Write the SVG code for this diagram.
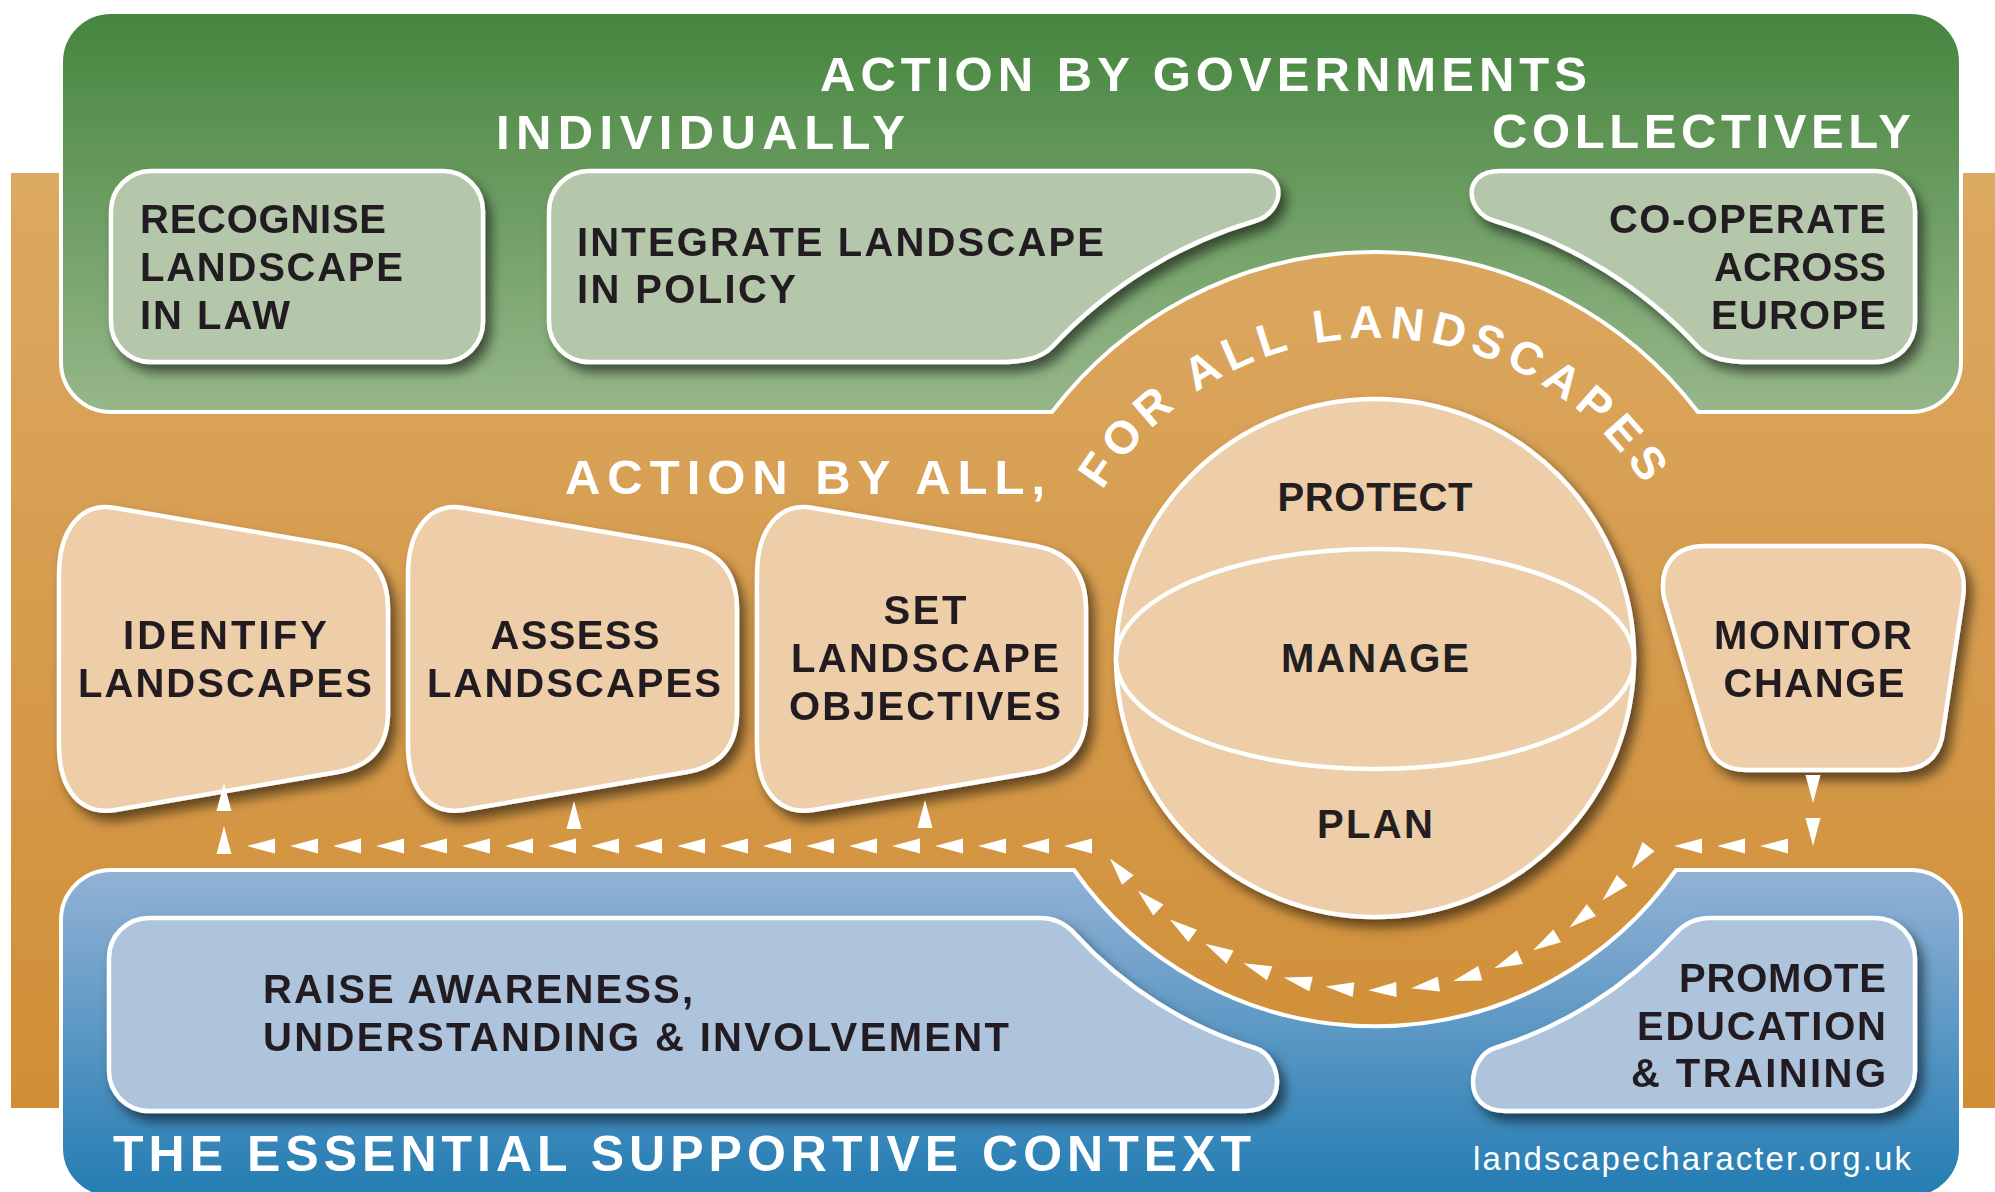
<svg xmlns="http://www.w3.org/2000/svg" xmlns:xlink="http://www.w3.org/1999/xlink" width="1995" height="1192" viewBox="0 0 1995 1192">
<defs>
<linearGradient id="gOrange" x1="0" y1="173" x2="0" y2="1108" gradientUnits="userSpaceOnUse"><stop offset="0" stop-color="#dca963"/><stop offset="1" stop-color="#d08e36"/></linearGradient>
<linearGradient id="gGreen" x1="0" y1="12" x2="0" y2="412" gradientUnits="userSpaceOnUse"><stop offset="0" stop-color="#45853e"/><stop offset="1" stop-color="#97b78a"/></linearGradient>
<linearGradient id="gBlue" x1="0" y1="870" x2="0" y2="1192" gradientUnits="userSpaceOnUse"><stop offset="0" stop-color="#93b2d5"/><stop offset="1" stop-color="#247db3"/></linearGradient>
<filter id="sh" x="-10%" y="-10%" width="130%" height="135%"><feDropShadow dx="6" dy="8" stdDeviation="6" flood-color="#000" flood-opacity="0.55"/></filter>
<polygon id="tri" points="-14,0 14,-7.5 14,7.5" fill="#fff"/>
<style>
.t{font-family:'Liberation Sans',Arial,sans-serif;font-weight:700;font-size:40px;fill:#231f20}
.w{font-family:'Liberation Sans',Arial,sans-serif;font-weight:700;font-size:49px;fill:#fff}
.box{stroke:#fff;stroke-width:4.5;stroke-linejoin:round}
.gb{fill:#b5c7aa}
.bb{fill:#aec4dd}
.tb{fill:#edcea8}
.m{text-anchor:middle}
.e{text-anchor:end}
</style>
</defs>

<g id="background">
<rect x="11" y="173" width="1984" height="935" fill="url(#gOrange)"/>
<path id="green-panel" d="M111,12 H1911 A50,50 0 0 1 1961,62 V362 A50,50 0 0 1 1911,412 H1698 A406,406 0 0 0 1052,412 H111 A50,50 0 0 1 61,362 V62 A50,50 0 0 1 111,12 Z" fill="url(#gGreen)" stroke="#fff" stroke-width="4"/>
<path id="blue-panel" d="M111,870 H1074 A368,368 0 0 0 1676,870 H1911 A50,50 0 0 1 1961,920 V1148 A50,50 0 0 1 1911,1198 H111 A50,50 0 0 1 61,1148 V920 A50,50 0 0 1 111,870 Z" fill="url(#gBlue)" stroke="#fff" stroke-width="4"/>
</g>

<g id="titles">
<text class="w" x="820" y="91" textLength="767" lengthAdjust="spacing">ACTION BY GOVERNMENTS</text>
<text class="w" x="496" y="149" textLength="409" lengthAdjust="spacing">INDIVIDUALLY</text>
<text class="w" x="1492" y="148" textLength="419" lengthAdjust="spacing">COLLECTIVELY</text>
<text class="w" x="565" y="494" textLength="480" lengthAdjust="spacing">ACTION BY ALL,</text>
<path id="arcText" d="M1055,658 A320,320 0 0 1 1695,658" fill="none"/>
<text class="w" font-size="46" style="font-size:46px" letter-spacing="7"><textPath href="#arcText" xlink:href="#arcText" startOffset="50%" text-anchor="middle">FOR ALL LANDSCAPES</textPath></text>
<text class="w" x="113" y="1171" style="font-size:50px" textLength="1138" lengthAdjust="spacing">THE ESSENTIAL SUPPORTIVE CONTEXT</text>
<text x="1473" y="1170" style="font-family:'Liberation Sans',Arial,sans-serif;font-size:33px;fill:#fff" textLength="438" lengthAdjust="spacing">landscapecharacter.org.uk</text>
</g>

<g id="recognise" filter="url(#sh)">
<rect class="box gb" x="111" y="171" width="372" height="191" rx="40"/>
<text class="t" x="140" y="233" textLength="246" lengthAdjust="spacing">RECOGNISE</text>
<text class="t" x="140" y="281" textLength="263" lengthAdjust="spacing">LANDSCAPE</text>
<text class="t" x="140" y="329" textLength="150" lengthAdjust="spacing">IN LAW</text>
</g>

<g id="integrate" filter="url(#sh)">
<path class="box gb" d="M589,171 H1250 C1290,171 1284,213 1255,221 A450,450 0 0 0 1052,347 C1040,359 1022,362 1000,362 H589 A40,40 0 0 1 549,322 V211 A40,40 0 0 1 589,171 Z"/>
<text class="t" x="577" y="256" textLength="527" lengthAdjust="spacing">INTEGRATE LANDSCAPE</text>
<text class="t" x="577" y="303" textLength="219" lengthAdjust="spacing">IN POLICY</text>
</g>

<g id="cooperate" filter="url(#sh)">
<path class="box gb" d="M1875,171 H1500 C1460,171 1466,213 1495,221 A450,450 0 0 1 1698,347 C1710,359 1728,362 1750,362 H1875 A40,40 0 0 0 1915,322 V211 A40,40 0 0 0 1875,171 Z"/>
<text class="t e" x="1886" y="233" textLength="277" lengthAdjust="spacing">CO-OPERATE</text>
<text class="t e" x="1886" y="281" textLength="172" lengthAdjust="spacing">ACROSS</text>
<text class="t e" x="1886" y="329" textLength="175" lengthAdjust="spacing">EUROPE</text>
</g>

<g id="identify" filter="url(#sh)">
<path class="box tb" d="M115,508 L338,546 C370,552 388,572 388,610 L388,712 C388,745 372,766 338,772 L115,810 C82,815 59,792 59,745 L59,575 C59,528 82,502 115,508 Z"/>
<text class="t m" x="225" y="649" textLength="204" lengthAdjust="spacing">IDENTIFY</text>
<text class="t m" x="225" y="697" textLength="294" lengthAdjust="spacing">LANDSCAPES</text>
</g>

<g id="assess" filter="url(#sh)">
<path class="box tb" transform="translate(349,0)" d="M115,508 L338,546 C370,552 388,572 388,610 L388,712 C388,745 372,766 338,772 L115,810 C82,815 59,792 59,745 L59,575 C59,528 82,502 115,508 Z"/>
<text class="t m" x="575" y="649" textLength="169" lengthAdjust="spacing">ASSESS</text>
<text class="t m" x="574" y="697" textLength="294" lengthAdjust="spacing">LANDSCAPES</text>
</g>

<g id="objectives" filter="url(#sh)">
<path class="box tb" transform="translate(698,0)" d="M115,508 L338,546 C370,552 388,572 388,610 L388,712 C388,745 372,766 338,772 L115,810 C82,815 59,792 59,745 L59,575 C59,528 82,502 115,508 Z"/>
<text class="t m" x="925" y="624" textLength="83" lengthAdjust="spacing">SET</text>
<text class="t m" x="925" y="672" textLength="268" lengthAdjust="spacing">LANDSCAPE</text>
<text class="t m" x="925" y="720" textLength="272" lengthAdjust="spacing">OBJECTIVES</text>
</g>

<g id="sphere">
<circle cx="1375" cy="658" r="259" class="box tb" filter="url(#sh)"/>
<ellipse cx="1375" cy="659" rx="259" ry="110" fill="none" stroke="#fff" stroke-width="4.5"/>
<text class="t m" x="1375" y="511" textLength="195" lengthAdjust="spacing">PROTECT</text>
<text class="t m" x="1375" y="672" textLength="188" lengthAdjust="spacing">MANAGE</text>
<text class="t m" x="1375" y="838" textLength="116" lengthAdjust="spacing">PLAN</text>
</g>

<g id="monitor" filter="url(#sh)">
<path class="box tb" d="M1705,546 H1922 C1955,546 1967,568 1963,598 L1942,738 C1937,760 1922,770 1898,770 H1747 C1724,770 1711,760 1706,738 L1664,598 C1659,568 1672,546 1705,546 Z"/>
<text class="t m" x="1813" y="649" textLength="198" lengthAdjust="spacing">MONITOR</text>
<text class="t m" x="1814" y="697" textLength="181" lengthAdjust="spacing">CHANGE</text>
</g>

<g id="raise" filter="url(#sh)">
<path class="box bb" d="M149,918 H1040 C1055,918 1067,925 1075,934 A408,408 0 0 0 1255,1048 C1282,1056 1290,1111 1245,1111 H149 A40,40 0 0 1 109,1071 V958 A40,40 0 0 1 149,918 Z"/>
<text class="t" x="263" y="1003" textLength="430" lengthAdjust="spacing">RAISE AWARENESS,</text>
<text class="t" x="263" y="1051" textLength="746" lengthAdjust="spacing">UNDERSTANDING &amp; INVOLVEMENT</text>
</g>

<g id="promote" filter="url(#sh)">
<path class="box bb" d="M1875,918 H1710 C1695,918 1683,925 1675,934 A408,408 0 0 1 1495,1048 C1468,1056 1460,1111 1505,1111 H1875 A40,40 0 0 0 1915,1071 V958 A40,40 0 0 0 1875,918 Z"/>
<text class="t e" x="1886" y="992" textLength="207" lengthAdjust="spacing">PROMOTE</text>
<text class="t e" x="1886" y="1040" textLength="249" lengthAdjust="spacing">EDUCATION</text>
<text class="t e" x="1886" y="1087" textLength="255" lengthAdjust="spacing">&amp; TRAINING</text>
</g>

<g id="connectors">
<use href="#tri" transform="translate(1813,789) rotate(-90)"/>
<use href="#tri" transform="translate(1813,832) rotate(-90)"/>
<use href="#tri" transform="translate(1774,846)"/>
<use href="#tri" transform="translate(1731,846)"/>
<use href="#tri" transform="translate(1688,846)"/>
<use href="#tri" transform="translate(1640.1,857.8) rotate(-53)"/>
<use href="#tri" transform="translate(1612.3,890.2) rotate(-45.61)"/>
<use href="#tri" transform="translate(1580.4,918.8) rotate(-38.22)"/>
<use href="#tri" transform="translate(1545.2,943.1) rotate(-30.83)"/>
<use href="#tri" transform="translate(1507.1,962.6) rotate(-23.44)"/>
<use href="#tri" transform="translate(1466.8,977.1) rotate(-16.05)"/>
<use href="#tri" transform="translate(1425,986.2) rotate(-8.66)"/>
<use href="#tri" transform="translate(1382.4,989.9) rotate(-1.27)"/>
<use href="#tri" transform="translate(1339.6,988.1) rotate(6.12)"/>
<use href="#tri" transform="translate(1297.4,980.8) rotate(13.51)"/>
<use href="#tri" transform="translate(1256.6,968.2) rotate(20.9)"/>
<use href="#tri" transform="translate(1217.7,950.4) rotate(28.29)"/>
<use href="#tri" transform="translate(1181.3,927.7) rotate(35.68)"/>
<use href="#tri" transform="translate(1148.2,900.4) rotate(43.07)"/>
<use href="#tri" transform="translate(1118.9,869.2) rotate(50.46)"/>
<use href="#tri" transform="translate(1078,846)"/>
<use href="#tri" transform="translate(1035,846)"/>
<use href="#tri" transform="translate(992,846)"/>
<use href="#tri" transform="translate(949,846)"/>
<use href="#tri" transform="translate(906,846)"/>
<use href="#tri" transform="translate(863,846)"/>
<use href="#tri" transform="translate(820,846)"/>
<use href="#tri" transform="translate(777,846)"/>
<use href="#tri" transform="translate(734,846)"/>
<use href="#tri" transform="translate(691,846)"/>
<use href="#tri" transform="translate(648,846)"/>
<use href="#tri" transform="translate(605,846)"/>
<use href="#tri" transform="translate(562,846)"/>
<use href="#tri" transform="translate(519,846)"/>
<use href="#tri" transform="translate(476,846)"/>
<use href="#tri" transform="translate(433,846)"/>
<use href="#tri" transform="translate(390,846)"/>
<use href="#tri" transform="translate(347,846)"/>
<use href="#tri" transform="translate(304,846)"/>
<use href="#tri" transform="translate(261,846)"/>
<use href="#tri" transform="translate(224,840) rotate(90)"/>
<use href="#tri" transform="translate(224,797) rotate(90)"/>
<use href="#tri" transform="translate(574,815) rotate(90)"/>
<use href="#tri" transform="translate(925,814) rotate(90)"/>
</g>
</svg>
